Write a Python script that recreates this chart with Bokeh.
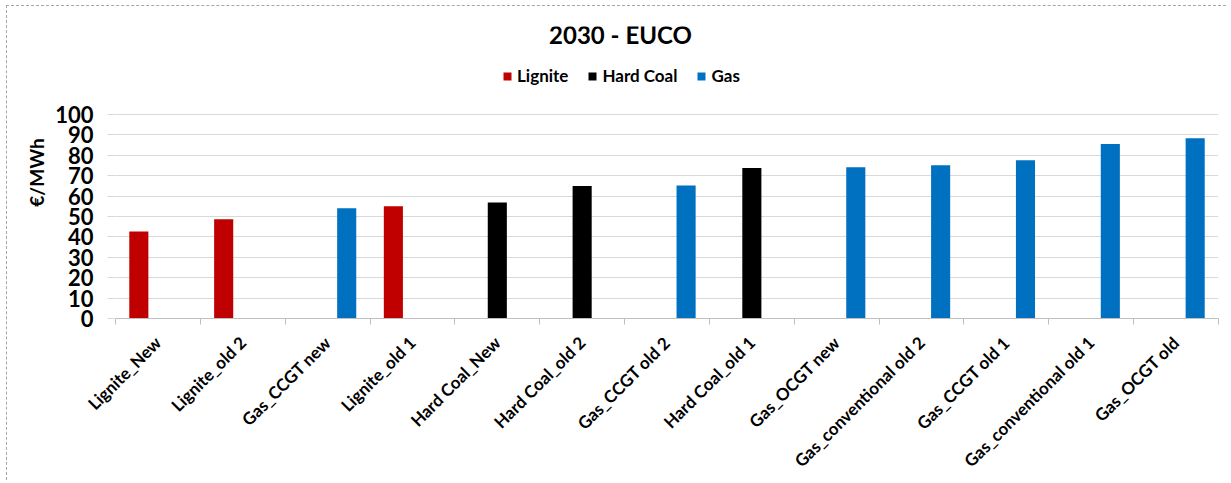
import numpy as np
from bokeh.plotting import figure
from bokeh.models import (Range1d, FixedTicker, Legend, LegendItem, Label)
from bokeh.embed import file_html
from bokeh.resources import INLINE

categories = ["Lignite_New", "Lignite_old 2", "Gas_CCGT new", "Lignite_old 1",
              "Hard Coal_New", "Hard Coal_old 2", "Gas_CCGT old 2", "Hard Coal_old 1",
              "Gas_OCGT new", "Gas_conventional old 2", "Gas_CCGT old 1",
              "Gas_conventional old 1", "Gas_OCGT old"]
lignite = [42.6, 48.7, 0, 55.0, 0, 0, 0, 0, 0, 0, 0, 0, 0]
hard_coal = [0, 0, 0, 0, 56.9, 64.9, 0, 73.8, 0, 0, 0, 0, 0]
gas = [0, 0, 54.1, 0, 0, 0, 65.2, 0, 74.2, 75.1, 77.6, 85.6, 88.4]
series_names = ["Lignite", "Hard Coal", "Gas"]
series_colors = ["#C00000", "#000000", "#0070C0"]
y_ticks = list(range(0, 101, 10))
title_text = "2030 - EUCO"
y_label = "€/MWh"

FONT = "Lato"
n = len(categories)
centers = np.arange(n) + 0.5
bw = 0.225

# layout (pixels)
W, H = 1220, 475
BL, BR, BT, BB = 108, 9, 20, 163
frame_h = H - BT - BB          # frame reaches up into the title/legend area
axis_px = 204                  # pixel height of the 0..100 value span
y_end = 100 * frame_h / axis_px

p = figure(width=W, height=H, output_backend="svg", toolbar_location=None,
           x_range=Range1d(0, n), y_range=Range1d(0, y_end),
           min_border_left=BL, min_border_right=BR, min_border_top=BT, min_border_bottom=BB)
p.styles = {"border-top": "1px dashed #a6a6a6", "border-left": "1px dashed #a6a6a6",
            "margin-top": "5px", "margin-left": "6px"}
p.outline_line_color = None
p.title.text = ""

# y axis
yax = p.yaxis[0]
yax.ticker = FixedTicker(ticks=y_ticks)
yax.bounds = (0, 100)
yax.axis_line_color = None
yax.major_tick_in = 0
yax.major_tick_out = 8
yax.major_tick_line_color = "#d9d9d9"
yax.minor_tick_line_color = None
yax.major_label_text_font = FONT
yax.major_label_text_font_size = "22px"
yax.major_label_text_font_style = "bold"
yax.major_label_text_color = "#000000"
yax.major_label_standoff = 14
yax.axis_label = y_label
yax.axis_label_text_font = FONT
yax.axis_label_text_font_size = "19px"
yax.axis_label_text_font_style = "bold"
yax.axis_label_text_color = "#000000"
yax.axis_label_standoff = 4

# x axis: labels at centres, minor ticks at category boundaries
xax = p.xaxis[0]
xax.ticker = FixedTicker(ticks=[float(c) for c in centers],
                         minor_ticks=list(range(0, n + 1)))
xax.major_label_overrides = {float(c): lab for c, lab in zip(centers, categories)}
xax.axis_line_color = "#bfbfbf"
xax.major_tick_line_color = None
xax.major_tick_in = 0
xax.major_tick_out = 0
xax.minor_tick_line_color = "#bfbfbf"
xax.minor_tick_in = 0
xax.minor_tick_out = 6
xax.major_label_orientation = np.pi / 4
xax.major_label_text_font = FONT
xax.major_label_text_font_size = "17px"
xax.major_label_text_font_style = "bold"
xax.major_label_text_color = "#000000"
xax.major_label_standoff = 15

# grid
p.ygrid.ticker = FixedTicker(ticks=y_ticks)
p.ygrid.grid_line_color = "#d9d9d9"
p.xgrid.grid_line_color = None

offsets = [-bw, 0.0, bw]
items = []
for name, vals, col, off in zip(series_names, [lignite, hard_coal, gas], series_colors, offsets):
    r = p.vbar(x=centers + off, top=vals, bottom=0, width=bw,
               fill_color=col, line_color=None)
    items.append(LegendItem(label=name, renderers=[r]))

# title (screen units, relative to the frame's bottom-left corner)
title = Label(x=505, y=frame_h - 8, x_units="screen", y_units="screen",
              text=title_text, text_font=FONT, text_font_size="24px",
              text_font_style="bold", text_color="#000000",
              text_align="center", text_baseline="middle")
p.add_layout(title)

legend = Legend(items=items, orientation="horizontal", location=(387, frame_h - 60))
legend.label_text_font = FONT
legend.label_text_font_size = "17px"
legend.label_text_font_style = "bold"
legend.label_text_color = "#000000"
legend.glyph_width = 10
legend.glyph_height = 10
legend.spacing = 19
legend.label_standoff = 5
legend.border_line_color = None
legend.background_fill_alpha = 0
legend.padding = 0
legend.margin = 0
p.add_layout(legend)

open("out.html", "w").write(file_html(p, INLINE))
